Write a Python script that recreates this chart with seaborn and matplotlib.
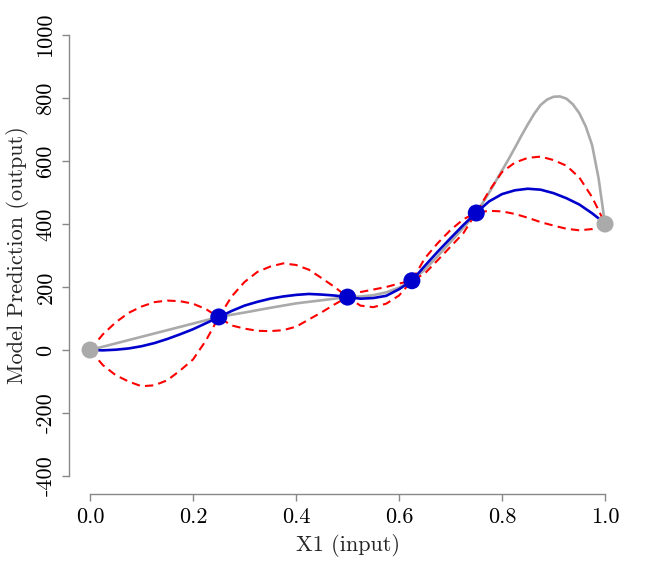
import matplotlib
matplotlib.use("Agg")
import matplotlib.pyplot as plt
import pandas as pd
import seaborn as sns

# x grid along X1 (input)
x_grid = [0.000, 0.025, 0.050, 0.075, 0.100, 0.125, 0.150, 0.175, 0.200, 0.225,
          0.250, 0.275, 0.300, 0.325, 0.350, 0.375, 0.400, 0.425, 0.450, 0.475,
          0.500, 0.525, 0.550, 0.575, 0.600, 0.625, 0.650, 0.675, 0.700, 0.725,
          0.750, 0.775, 0.800, 0.825, 0.850, 0.875, 0.900, 0.925, 0.950, 0.975, 1.000]

# grey curve, sampled finer near its peak
gray_x = [0.000, 0.050, 0.100, 0.150, 0.200, 0.250, 0.300, 0.350, 0.400, 0.450,
          0.500, 0.525, 0.550, 0.575, 0.600, 0.625, 0.650, 0.675, 0.700, 0.725,
          0.750, 0.7625, 0.775, 0.7875, 0.800, 0.8125, 0.825, 0.8375, 0.850, 0.8625,
          0.875, 0.8875, 0.900, 0.9125, 0.925, 0.9375, 0.950, 0.9625, 0.975, 0.9875, 1.000]
gray_curve = [0, 21, 42, 63, 84, 105, 119, 134, 148, 158,
              168, 170, 174, 183, 198, 220, 255, 298, 343, 388,
              435, 467, 500, 535, 570, 605, 642, 680, 716, 750,
              778, 795, 804, 805, 798, 780, 752, 710, 650, 545, 400]

# blue mean curve
blue_curve = [0, -1, 1, 5, 12, 22, 35, 50, 66, 85,
              104, 124, 141, 153, 163, 170, 175, 178, 176, 173,
              168, 163, 165, 172, 193, 220, 267, 312, 355, 397,
              436, 472, 495, 507, 512, 509, 498, 482, 462, 434, 402]

# red dashed bands
red_upper = [0, 50, 88, 118, 138, 152, 157, 155, 147, 130,
             104, 170, 216, 248, 265, 275, 270, 255, 228, 200,
             168, 184, 192, 200, 211, 220, 291, 339, 381, 415,
             436, 505, 565, 595, 610, 614, 603, 585, 548, 485, 402]
red_lower = [0, -48, -80, -100, -115, -112, -96, -65, -30, 30,
             104, 78, 68, 61, 60, 63, 74, 97, 120, 145,
             168, 141, 136, 147, 173, 220, 243, 285, 328, 371,
             436, 442, 440, 432, 420, 406, 395, 385, 380, 384, 402]

# observed points
gray_pts_x = [0.0, 1.0]
gray_pts_y = [0, 400]
blue_pts_x = [0.25, 0.5, 0.625, 0.75]
blue_pts_y = [105, 168, 220, 435]

x_ticks = [0.0, 0.2, 0.4, 0.6, 0.8, 1.0]
x_tick_labels = ["0.0", "0.2", "0.4", "0.6", "0.8", "1.0"]
y_ticks = [-400, -200, 0, 200, 400, 600, 800, 1000]
y_tick_labels = ["-400", "-200", "0", "200", "400", "600", "800", "1000"]

sns.set_style("ticks")
plt.rcParams["font.family"] = ["cmr10", "DejaVu Serif"]
plt.rcParams["axes.unicode_minus"] = False

df = pd.DataFrame({"x": x_grid, "blue": blue_curve,
                   "upper": red_upper, "lower": red_lower})
gray_df = pd.DataFrame({"x": gray_x, "gray": gray_curve})

fig = plt.figure(figsize=(6.58, 5.64), dpi=100)
ax = fig.add_axes([0.1055, 0.1247, 0.8453, 0.8445])

sns.lineplot(data=gray_df, x="x", y="gray", color="#aaaaaa", linewidth=1.9, ax=ax)
sns.lineplot(data=df, x="x", y="upper", color="#ff0000", linewidth=1.5,
             ax=ax).lines[-1].set_dashes((4, 2.5))
sns.lineplot(data=df, x="x", y="lower", color="#ff0000", linewidth=1.5,
             ax=ax).lines[-1].set_dashes((4, 2.5))
sns.lineplot(data=df, x="x", y="blue", color="#0000cd", linewidth=1.9, ax=ax)

sns.scatterplot(x=gray_pts_x, y=gray_pts_y, color="#aaaaaa", s=150,
                edgecolor="none", zorder=5, ax=ax)
sns.scatterplot(x=blue_pts_x, y=blue_pts_y, color="#0000cd", s=150,
                edgecolor="none", zorder=5, ax=ax)

ax.set_xlim(-0.04, 1.04)
ax.set_ylim(-456, 1056)
ax.set_xticks(x_ticks)
ax.set_xticklabels(x_tick_labels, fontsize=16)
ax.set_yticks(y_ticks)
ax.set_yticklabels(y_tick_labels, fontsize=16, rotation=90, va="center")

for side in ["top", "right"]:
    ax.spines[side].set_visible(False)
ax.spines["left"].set_bounds(-400, 1000)
ax.spines["bottom"].set_bounds(0, 1)
for side in ["left", "bottom"]:
    ax.spines[side].set_color("#888888")
    ax.spines[side].set_linewidth(1.0)
ax.tick_params(axis="both", colors="#888888", labelcolor="black",
               length=5, width=1.0, direction="out", pad=5)

ax.set_xlabel("X1 (input)", fontsize=16, labelpad=5)
ax.set_ylabel("Model Prediction (output)", fontsize=16, labelpad=5)

fig.savefig("out.png", dpi=100)
